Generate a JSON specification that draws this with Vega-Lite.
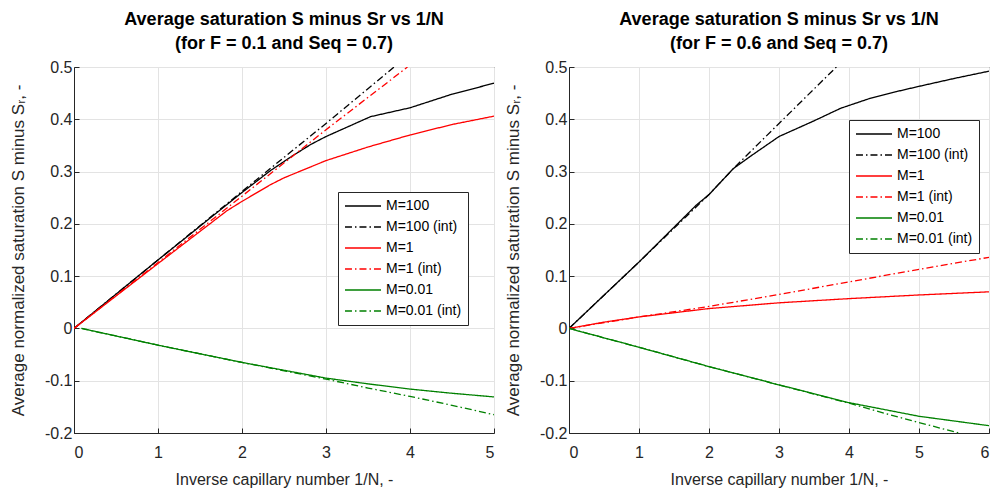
{
  "$schema": "https://vega.github.io/schema/vega-lite/v6.json",
  "background": "white",
  "padding": {"left": 8, "top": 10, "right": 3, "bottom": 0},
  "spacing": 75,
  "bounds": "flush",
  "datasets": {
    "left": [
      {"s": "M=100", "x": 0, "y": 0}, {"s": "M=100", "x": 1, "y": 0.131}, {"s": "M=100", "x": 2, "y": 0.26}, {"s": "M=100", "x": 2.34, "y": 0.302}, {"s": "M=100", "x": 2.6, "y": 0.33}, {"s": "M=100", "x": 2.82, "y": 0.352}, {"s": "M=100", "x": 3, "y": 0.367}, {"s": "M=100", "x": 3.53, "y": 0.405}, {"s": "M=100", "x": 4, "y": 0.422}, {"s": "M=100", "x": 4.5, "y": 0.448}, {"s": "M=100", "x": 5, "y": 0.469},
      {"s": "M=100 (int)", "x": 0, "y": 0}, {"s": "M=100 (int)", "x": 1, "y": 0.131}, {"s": "M=100 (int)", "x": 2, "y": 0.262}, {"s": "M=100 (int)", "x": 3, "y": 0.392}, {"s": "M=100 (int)", "x": 3.81, "y": 0.5},
      {"s": "M=1", "x": 0, "y": 0}, {"s": "M=1", "x": 1, "y": 0.124}, {"s": "M=1", "x": 1.82, "y": 0.225}, {"s": "M=1", "x": 2, "y": 0.243}, {"s": "M=1", "x": 2.34, "y": 0.275}, {"s": "M=1", "x": 2.5, "y": 0.288}, {"s": "M=1", "x": 3, "y": 0.321}, {"s": "M=1", "x": 3.5, "y": 0.347}, {"s": "M=1", "x": 4, "y": 0.37}, {"s": "M=1", "x": 4.5, "y": 0.39}, {"s": "M=1", "x": 5, "y": 0.406},
      {"s": "M=1 (int)", "x": 0, "y": 0}, {"s": "M=1 (int)", "x": 1, "y": 0.126}, {"s": "M=1 (int)", "x": 2, "y": 0.253}, {"s": "M=1 (int)", "x": 3, "y": 0.38}, {"s": "M=1 (int)", "x": 3.97, "y": 0.5},
      {"s": "M=0.01", "x": 0.09, "y": 0}, {"s": "M=0.01", "x": 1, "y": -0.032}, {"s": "M=0.01", "x": 2, "y": -0.065}, {"s": "M=0.01", "x": 3, "y": -0.095}, {"s": "M=0.01", "x": 3.5, "y": -0.106}, {"s": "M=0.01", "x": 4, "y": -0.116}, {"s": "M=0.01", "x": 4.5, "y": -0.124}, {"s": "M=0.01", "x": 5, "y": -0.131},
      {"s": "M=0.01 (int)", "x": 0.09, "y": 0}, {"s": "M=0.01 (int)", "x": 1, "y": -0.032}, {"s": "M=0.01 (int)", "x": 2, "y": -0.065}, {"s": "M=0.01 (int)", "x": 3, "y": -0.097}, {"s": "M=0.01 (int)", "x": 3.5, "y": -0.114}, {"s": "M=0.01 (int)", "x": 4, "y": -0.13}, {"s": "M=0.01 (int)", "x": 4.5, "y": -0.147}, {"s": "M=0.01 (int)", "x": 5, "y": -0.165}
    ],
    "right": [
      {"s": "M=100", "x": 0, "y": 0}, {"s": "M=100", "x": 1, "y": 0.127}, {"s": "M=100", "x": 1.82, "y": 0.236}, {"s": "M=100", "x": 2, "y": 0.256}, {"s": "M=100", "x": 2.35, "y": 0.306}, {"s": "M=100", "x": 2.6, "y": 0.33}, {"s": "M=100", "x": 3, "y": 0.367}, {"s": "M=100", "x": 3.5, "y": 0.397}, {"s": "M=100", "x": 3.88, "y": 0.421}, {"s": "M=100", "x": 4.3, "y": 0.44}, {"s": "M=100", "x": 4.68, "y": 0.453}, {"s": "M=100", "x": 5, "y": 0.463}, {"s": "M=100", "x": 5.5, "y": 0.478}, {"s": "M=100", "x": 6, "y": 0.492},
      {"s": "M=100 (int)", "x": 0, "y": 0}, {"s": "M=100 (int)", "x": 1, "y": 0.127}, {"s": "M=100 (int)", "x": 2, "y": 0.256}, {"s": "M=100 (int)", "x": 2.35, "y": 0.306}, {"s": "M=100 (int)", "x": 3, "y": 0.392}, {"s": "M=100 (int)", "x": 3.82, "y": 0.5},
      {"s": "M=1", "x": 0, "y": 0}, {"s": "M=1", "x": 0.5, "y": 0.012}, {"s": "M=1", "x": 1, "y": 0.022}, {"s": "M=1", "x": 2, "y": 0.038}, {"s": "M=1", "x": 3, "y": 0.049}, {"s": "M=1", "x": 4, "y": 0.057}, {"s": "M=1", "x": 5, "y": 0.064}, {"s": "M=1", "x": 6, "y": 0.07},
      {"s": "M=1 (int)", "x": 0, "y": 0}, {"s": "M=1 (int)", "x": 1, "y": 0.022}, {"s": "M=1 (int)", "x": 2, "y": 0.042}, {"s": "M=1 (int)", "x": 3, "y": 0.065}, {"s": "M=1 (int)", "x": 4, "y": 0.089}, {"s": "M=1 (int)", "x": 5, "y": 0.113}, {"s": "M=1 (int)", "x": 6, "y": 0.136},
      {"s": "M=0.01", "x": 0, "y": 0}, {"s": "M=0.01", "x": 1, "y": -0.036}, {"s": "M=0.01", "x": 2, "y": -0.073}, {"s": "M=0.01", "x": 3, "y": -0.108}, {"s": "M=0.01", "x": 4, "y": -0.142}, {"s": "M=0.01", "x": 5, "y": -0.168}, {"s": "M=0.01", "x": 6, "y": -0.186},
      {"s": "M=0.01 (int)", "x": 0, "y": 0}, {"s": "M=0.01 (int)", "x": 1, "y": -0.036}, {"s": "M=0.01 (int)", "x": 2, "y": -0.073}, {"s": "M=0.01 (int)", "x": 3, "y": -0.108}, {"s": "M=0.01 (int)", "x": 4, "y": -0.143}, {"s": "M=0.01 (int)", "x": 4.5, "y": -0.162}, {"s": "M=0.01 (int)", "x": 5, "y": -0.18}, {"s": "M=0.01 (int)", "x": 5.57, "y": -0.2}
    ]
  },
  "config": {
    "font": "Liberation Sans",
    "view": {"stroke": "#262626", "strokeWidth": 1},
    "axis": {
      "labelFont": "Liberation Sans",
      "labelFontSize": 16,
      "labelColor": "#262626",
      "titleFont": "Liberation Sans",
      "titleFontSize": 16,
      "titleFontWeight": "normal",
      "titleColor": "#262626",
      "gridColor": "#e3e3e3",
      "gridOpacity": 1,
      "domainColor": "#262626",
      "tickColor": "#262626",
      "tickSize": -5
    },
    "axisX": {"labelPadding": 16, "titlePadding": 11},
    "axisY": {"labelPadding": 7, "titlePadding": 17, "titleFontSize": 17},
    "title": {
      "font": "Liberation Sans",
      "fontSize": 18,
      "fontWeight": "bold",
      "color": "#000000",
      "anchor": "middle",
      "offset": 6,
      "lineHeight": 24
    },
    "legend": {
      "orient": "none",
      "title": null,
      "strokeColor": "#262626",
      "fillColor": "white",
      "padding": 6,
      "labelFont": "Liberation Sans",
      "labelFontSize": 14,
      "labelColor": "#000000",
      "labelOffset": 4,
      "rowPadding": 5,
      "clipHeight": 16,
      "symbolType": "stroke",
      "symbolSize": 1300,
      "symbolStrokeWidth": 1.3
    }
  },
  "resolve": {
    "scale": {"color": "independent", "strokeDash": "independent"},
    "legend": {"color": "independent", "strokeDash": "independent"}
  },
  "hconcat": [
    {
      "width": 420,
      "height": 366,
      "title": {"text": ["Average saturation S minus Sr vs 1/N", "(for F = 0.1 and Seq = 0.7)"]},
      "data": {"name": "left"},
      "mark": {"type": "line", "strokeWidth": 1.3, "clip": true},
      "encoding": {
        "x": {"field": "x", "type": "quantitative", "scale": {"domain": [0, 5], "nice": false}, "axis": {"values": [0, 1, 2, 3, 4, 5], "title": "Inverse capillary number 1/N, -"}},
        "y": {"field": "y", "type": "quantitative", "scale": {"domain": [-0.2, 0.5], "nice": false}, "axis": {"values": [-0.2, -0.1, 0, 0.1, 0.2, 0.3, 0.4, 0.5], "format": ".1~f", "labelExpr": "replace(datum.label, '\u2212', '-')", "title": "Average normalized saturation S minus S\u1d63, -"}},
        "color": {"field": "s", "type": "nominal", "scale": {"domain": ["M=100", "M=100 (int)", "M=1", "M=1 (int)", "M=0.01", "M=0.01 (int)"], "range": ["#000000", "#000000", "#ff0000", "#ff0000", "#008000", "#008000"]}, "legend": {"legendX": 264, "legendY": 125}},
        "strokeDash": {"field": "s", "type": "nominal", "scale": {"domain": ["M=100", "M=100 (int)", "M=1", "M=1 (int)", "M=0.01", "M=0.01 (int)"], "range": [[1, 0], [7, 3, 1.5, 3], [1, 0], [7, 3, 1.5, 3], [1, 0], [7, 3, 1.5, 3]]}, "legend": {"legendX": 264, "legendY": 125}}
      }
    },
    {
      "width": 420,
      "height": 366,
      "title": {"text": ["Average saturation S minus Sr vs 1/N", "(for F = 0.6 and Seq = 0.7)"]},
      "data": {"name": "right"},
      "mark": {"type": "line", "strokeWidth": 1.3, "clip": true},
      "encoding": {
        "x": {"field": "x", "type": "quantitative", "scale": {"domain": [0, 6], "nice": false}, "axis": {"values": [0, 1, 2, 3, 4, 5, 6], "title": "Inverse capillary number 1/N, -"}},
        "y": {"field": "y", "type": "quantitative", "scale": {"domain": [-0.2, 0.5], "nice": false}, "axis": {"values": [-0.2, -0.1, 0, 0.1, 0.2, 0.3, 0.4, 0.5], "format": ".1~f", "labelExpr": "replace(datum.label, '\u2212', '-')", "title": "Average normalized saturation S minus S\u1d63, -"}},
        "color": {"field": "s", "type": "nominal", "scale": {"domain": ["M=100", "M=100 (int)", "M=1", "M=1 (int)", "M=0.01", "M=0.01 (int)"], "range": ["#000000", "#000000", "#ff0000", "#ff0000", "#008000", "#008000"]}, "legend": {"legendX": 280, "legendY": 53}},
        "strokeDash": {"field": "s", "type": "nominal", "scale": {"domain": ["M=100", "M=100 (int)", "M=1", "M=1 (int)", "M=0.01", "M=0.01 (int)"], "range": [[1, 0], [7, 3, 1.5, 3], [1, 0], [7, 3, 1.5, 3], [1, 0], [7, 3, 1.5, 3]]}, "legend": {"legendX": 280, "legendY": 53}}
      }
    }
  ]
}
